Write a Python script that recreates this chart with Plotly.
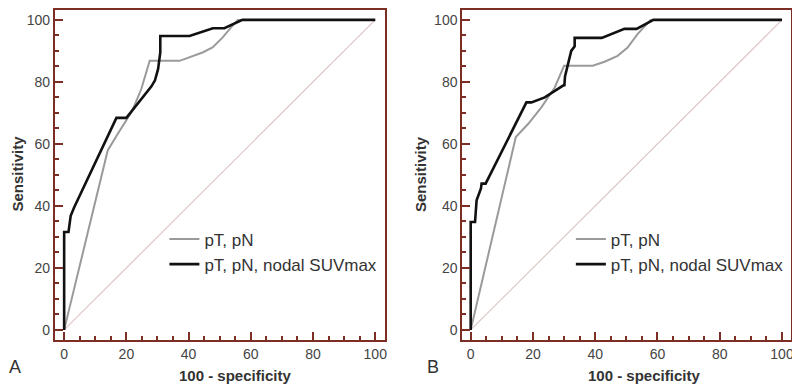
import plotly.graph_objects as go

# ---------------- data ----------------
series_names = ["pT, pN", "pT, pN, nodal SUVmax"]

A_gray_x = [0, 14.0, 17.2, 21.8, 24.8, 27.5, 37.1, 40.3, 44.5, 47.7, 50.9, 53.6, 55.8, 100]
A_gray_y = [0, 57.9, 63.2, 70.5, 77.7, 86.8, 86.8, 87.9, 89.5, 91.1, 94.3, 97.5, 100, 100]
A_black_x = [0, 0, 1.4, 2.1, 3.2, 16.8, 20.0, 28.0, 29.2, 30.2, 30.9, 30.9, 40.3, 44.0, 47.8, 51.5, 57.3, 100]
A_black_y = [0, 31.6, 31.6, 36.8, 39.5, 68.4, 68.4, 78.5, 80.5, 84.2, 89.5, 94.8, 94.8, 96.1, 97.3, 97.3, 100, 100]

B_gray_x = [0, 14.5, 18.5, 22.7, 27.0, 30.0, 39.2, 43.0, 47.2, 50.4, 53.6, 56.8, 57.8, 100]
B_gray_y = [0, 62.2, 66.5, 71.8, 78.2, 85.2, 85.2, 86.5, 88.4, 91.1, 95.4, 99.1, 100, 100]
B_black_x = [0, 0, 1.4, 1.9, 3.3, 3.5, 4.8, 17.9, 19.5, 23.8, 29.8, 30.1, 30.3, 32.3, 33.4, 33.4, 42.1, 46.2, 49.4, 53.3, 58.7, 100]
B_black_y = [0, 34.8, 34.8, 41.8, 45.6, 47.2, 47.2, 73.4, 73.4, 75.0, 78.9, 78.9, 81.8, 90.0, 91.5, 94.2, 94.2, 95.9, 97.1, 97.1, 100, 100]

diag_x = [0, 100]
diag_y = [0, 100]

panel_labels = ["A", "B"]
x_title = "100 - specificity"
y_title = "Sensitivity"

# ---------------- style ----------------
OFF = 8  # page body margin
W, H = 800 - OFF, 385 - OFF
FRAME = "#7d2e24"
GRAY = "#9a9a9a"
BLACK = "#111111"
DIAG = "#dcc6c6"
FONT = "Liberation Sans, Arial, sans-serif"

fig = go.Figure()

panels = [
    ("x", "y", "legend", A_gray_x, A_gray_y, A_black_x, A_black_y),
    ("x2", "y2", "legend2", B_gray_x, B_gray_y, B_black_x, B_black_y),
]
for xa, ya, lg, gx, gy, bx, by in panels:
    fig.add_trace(go.Scatter(x=diag_x, y=diag_y, mode="lines", xaxis=xa, yaxis=ya,
                             line=dict(color=DIAG, width=1.2), showlegend=False, hoverinfo="skip"))
    fig.add_trace(go.Scatter(x=gx, y=gy, mode="lines", xaxis=xa, yaxis=ya, name=series_names[0],
                             legend=lg, legendgroup=lg + "g",
                             line=dict(color=GRAY, width=2)))
    fig.add_trace(go.Scatter(x=bx, y=by, mode="lines", xaxis=xa, yaxis=ya, name=series_names[1],
                             legend=lg, legendgroup=lg + "b",
                             line=dict(color=BLACK, width=2.6)))

def px_x(p):
    return (p - OFF) / W

def px_y(p):
    return 1 - (p - OFF) / H

axis_common = dict(
    showgrid=False, zeroline=False, showline=True, linecolor=FRAME, linewidth=2, mirror=True,
    ticks="inside", ticklen=8, tickwidth=2, tickcolor=FRAME,
    tickfont=dict(family=FONT, size=14, color="#444444"),
    minor=dict(ticks="inside", ticklen=4, tickwidth=1.5, tickcolor=FRAME, dtick=5),
    dtick=20, tick0=0,
)

dom_y = [px_y(340), px_y(9)]
fig.update_layout(
    width=W, height=H,
    margin=dict(l=0, r=0, t=0, b=0),
    paper_bgcolor="white", plot_bgcolor="white",
    font=dict(family=FONT),
    xaxis=dict(domain=[px_x(55), px_x(386)], range=[-3, 103], anchor="y", **axis_common),
    yaxis=dict(domain=dom_y, range=[-3.3, 103.2], anchor="x", **axis_common),
    xaxis2=dict(domain=[px_x(464), px_x(794)], range=[-2.7, 102.9], anchor="y2", **axis_common),
    yaxis2=dict(domain=dom_y, range=[-3.3, 103.2], anchor="x2", **axis_common),
    legend=dict(x=px_x(165), y=px_y(221), xanchor="left", yanchor="top",
                font=dict(family=FONT, size=17, color="#333333"), bgcolor="rgba(0,0,0,0)",
                traceorder="grouped", tracegroupgap=0),
    legend2=dict(x=px_x(573), y=px_y(221), xanchor="left", yanchor="top",
                 font=dict(family=FONT, size=17, color="#333333"), bgcolor="rgba(0,0,0,0)",
                 traceorder="grouped", tracegroupgap=0),
    showlegend=True,
)

annotations = []
for xc, yt_x, lab_x, lab in [(236, 18, 15, panel_labels[0]), (646, 422, 435, panel_labels[1])]:
    annotations.append(dict(text="<b>" + x_title + "</b>", x=px_x(xc), y=px_y(375), xref="paper", yref="paper",
                            showarrow=False, font=dict(family=FONT, size=15, color="#333333"),
                            xanchor="center", yanchor="middle"))
    annotations.append(dict(text="<b>" + y_title + "</b>", x=px_x(yt_x), y=px_y(173), xref="paper", yref="paper",
                            showarrow=False, textangle=-90, font=dict(family=FONT, size=15, color="#333333"),
                            xanchor="center", yanchor="middle"))
    annotations.append(dict(text=lab, x=px_x(lab_x), y=px_y(367), xref="paper", yref="paper",
                            showarrow=False, font=dict(family=FONT, size=18, color="#333333"),
                            xanchor="center", yanchor="middle"))
fig.update_layout(annotations=annotations)

fig.write_html("out.html")
